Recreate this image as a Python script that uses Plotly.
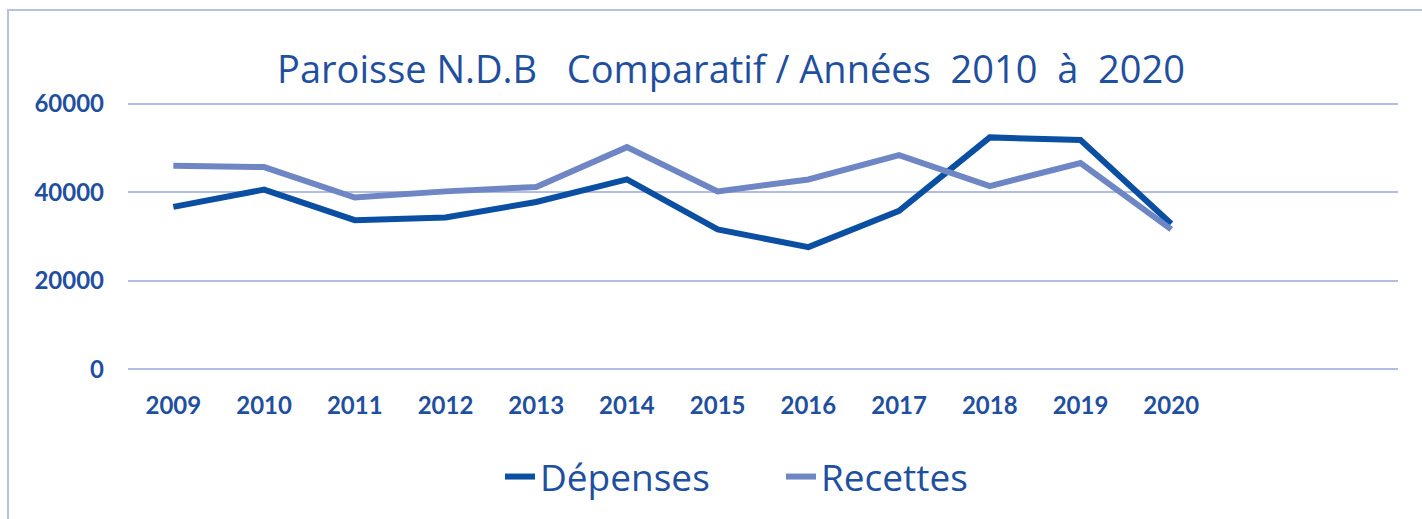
import plotly.graph_objects as go

years = [2009, 2010, 2011, 2012, 2013, 2014, 2015, 2016, 2017, 2018, 2019, 2020]
depenses = [36700, 40600, 33700, 34300, 37800, 42900, 31600, 27600, 35800, 52400, 51800, 32900]
recettes = [46000, 45700, 38800, 40200, 41200, 50200, 40200, 42900, 48400, 41400, 46600, 31600]
ytick_vals = [0, 20000, 40000, 60000]

TXT = "#1f4f9f"
FONT = "Lato, 'Open Sans', sans-serif"
TFONT = "'Open Sans', Lato, sans-serif"

fig = go.Figure()
fig.add_trace(go.Scatter(x=years, y=depenses, name="Dépenses", mode="lines",
                         line=dict(color="#0b4fa3", width=6)))
fig.add_trace(go.Scatter(x=years, y=recettes, name="Recettes", mode="lines",
                         line=dict(color="#6f86c4", width=6)))

W, H = 1422, 519
L, R, T, B = 128, 24, 102, 148
ph = H - T - B
fig.update_layout(
    width=W, height=H,
    margin=dict(l=L, r=R, t=T, b=B, autoexpand=False),
    paper_bgcolor="white", plot_bgcolor="white",
    font=dict(family=FONT, color=TXT),
    title=dict(text="Paroisse N.D.B\u00a0\u00a0 Comparatif / Années\u00a0 2010\u00a0 à\u00a0 2020",
               x=731 / W, xanchor="center", y=1 - 70 / H, yanchor="middle",
               font=dict(size=38, color=TXT, family=TFONT)),
    xaxis=dict(range=[2008.5, 2022.5], tickvals=years, ticktext=[str(y) for y in years],
               showgrid=False, zeroline=False, showline=False, ticks="", automargin=False,
               tickfont=dict(size=24, color=TXT, family=FONT, weight="bold"),
               ticklabelstandoff=18),
    yaxis=dict(range=[-400, 60400], tickvals=ytick_vals, ticktext=[str(v) for v in ytick_vals],
               showgrid=True, gridcolor="#b3bce3", gridwidth=2, zeroline=False,
               ticks="", automargin=False,
               tickfont=dict(size=24, color=TXT, family=FONT, weight="bold"),
               ticklabelstandoff=23),
    legend=dict(orientation="h", x=500 / W, xref="container", xanchor="left",
                y=1 - 477 / H, yref="container", yanchor="middle",
                font=dict(size=37, color=TXT, family=TFONT),
                entrywidth=236, entrywidthmode="pixels",
                bgcolor="rgba(0,0,0,0)"),
    showlegend=True,
)

fig.add_shape(type="rect", xref="paper", yref="paper",
              x0=(8 - L) / (W - L - R), x1=(W + 20 - L) / (W - L - R),
              y0=-1.0, y1=(H - B - 10) / ph,
              line=dict(color="#b8c0e4", width=2), fillcolor="rgba(0,0,0,0)", layer="below")

fig.write_html("out.html", config={"displayModeBar": False},
               post_script="document.body.style.margin='0';document.body.style.overflow='hidden';")
